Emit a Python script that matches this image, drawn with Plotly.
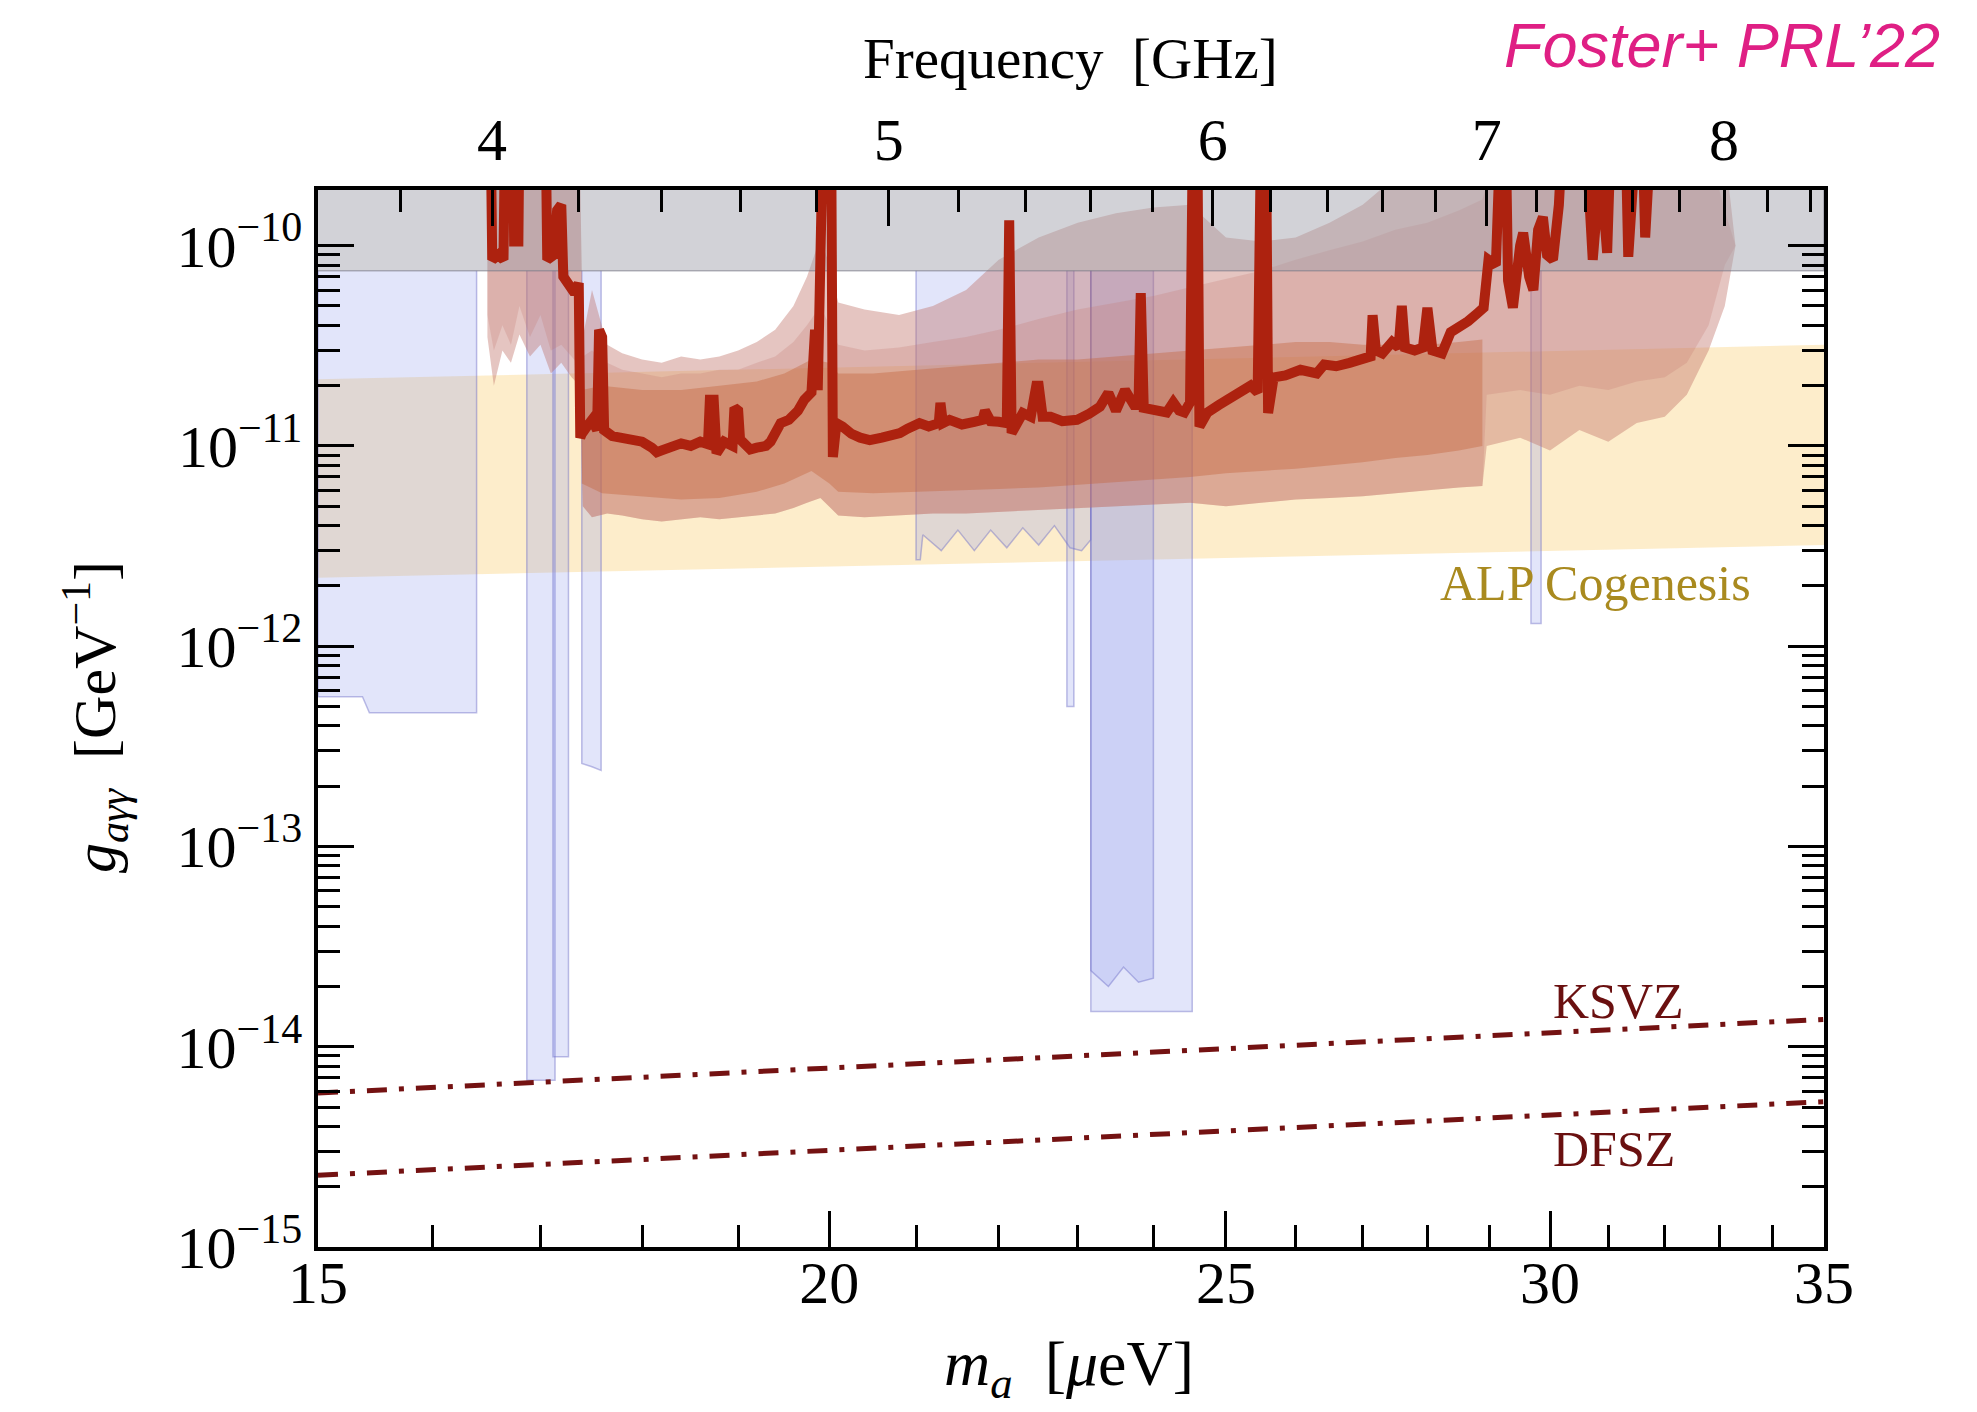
import numpy as np
import plotly.graph_objects as go

# ---------------- data ----------------
# observed limit (thick red line): axion mass [ueV] and coupling [GeV^-1]
limit_m = [16.53, 16.545, 16.60, 16.65, 16.665, 16.74, 16.75, 16.79, 16.80, 17.05,
           17.065, 17.13, 17.16, 17.20, 17.22, 17.28, 17.33, 17.37, 17.385, 17.40,
           17.45, 17.50, 17.55, 17.57, 17.60, 17.62, 17.70, 17.80, 17.90, 18.00,
           18.10, 18.15, 18.20, 18.30, 18.40, 18.50, 18.60, 18.68, 18.70, 18.74,
           18.77, 18.85, 18.94, 18.96, 19.00, 19.02, 19.13, 19.20, 19.30, 19.35,
           19.46, 19.55, 19.65, 19.72, 19.80, 19.84, 19.87, 19.93, 20.02, 20.04,
           20.08, 20.15, 20.25, 20.35, 20.46, 20.60, 20.70, 20.81, 20.90, 21.04,
           21.15, 21.27, 21.29, 21.32, 21.40, 21.55, 21.70, 21.80, 21.83, 21.90,
           22.00, 22.10, 22.13, 22.16, 22.30, 22.40, 22.47, 22.50, 22.55, 22.65,
           22.80, 22.99, 23.15, 23.29, 23.40, 23.50, 23.62, 23.74, 23.80, 23.83,
           23.87, 23.95, 24.18, 24.27, 24.35, 24.42, 24.50, 24.54, 24.60, 24.63,
           24.74, 24.90, 25.02, 25.20, 25.35, 25.45, 25.50, 25.57, 25.60, 25.68,
           25.85, 26.07, 26.20, 26.31, 26.42, 26.60, 26.80, 27.00, 27.12, 27.15,
           27.20, 27.30, 27.45, 27.55, 27.60, 27.65, 27.80, 27.93, 28.00, 28.08,
           28.23, 28.37, 28.50, 28.65, 28.80, 28.90, 28.98, 29.10, 29.18, 29.26,
           29.30, 29.38, 29.50, 29.55, 29.65, 29.72, 29.80, 29.88, 29.95, 30.05,
           30.15, 30.22, 30.60, 30.68, 30.73, 30.80, 30.85, 30.93, 30.98, 31.05,
           31.30, 31.35, 31.42, 31.50, 31.60, 31.65, 31.72, 31.86]
limit_g = [4e-10, 8.5e-11, 9.0e-11, 8.5e-11, 4e-10, 4e-10, 1.05e-10, 1.05e-10, 4e-10, 4e-10,
           8.5e-11, 9.0e-11, 1.5e-10, 1.6e-10, 7.0e-11, 6.2e-11, 5.8e-11, 6.5e-11, 1.1e-11, 1.15e-11,
           1.25e-11, 1.35e-11, 1.2e-11, 3.8e-11, 3.5e-11, 1.2e-11, 1.12e-11, 1.1e-11, 1.08e-11, 1.05e-11,
           9.8e-12, 9.3e-12, 9.5e-12, 1.0e-11, 1.03e-11, 1.0e-11, 1.05e-11, 1.02e-11, 1.7e-11, 1.7e-11,
           9.2e-12, 1.05e-11, 1.0e-11, 1.55e-11, 1.5e-11, 1.08e-11, 9.6e-12, 9.8e-12, 1.0e-11, 1.05e-11,
           1.3e-11, 1.35e-11, 1.5e-11, 1.7e-11, 1.85e-11, 3.8e-11, 1.9e-11, 4e-10, 4e-10, 8.8e-12,
           1.3e-11, 1.25e-11, 1.15e-11, 1.1e-11, 1.07e-11, 1.1e-11, 1.12e-11, 1.16e-11, 1.22e-11, 1.3e-11,
           1.25e-11, 1.3e-11, 1.64e-11, 1.3e-11, 1.35e-11, 1.28e-11, 1.32e-11, 1.35e-11, 1.5e-11, 1.33e-11,
           1.32e-11, 1.3e-11, 1.34e-10, 1.16e-11, 1.46e-11, 1.4e-11, 2.0e-11, 2.0e-11, 1.4e-11, 1.4e-11,
           1.33e-11, 1.35e-11, 1.45e-11, 1.57e-11, 1.84e-11, 1.5e-11, 1.9e-11, 1.6e-11, 1.6e-11, 5.8e-11,
           1.55e-11, 1.52e-11, 1.47e-11, 1.65e-11, 1.5e-11, 1.47e-11, 1.65e-11, 4e-10, 4e-10, 1.25e-11,
           1.47e-11, 1.6e-11, 1.7e-11, 1.85e-11, 2.0e-11, 1.85e-11, 4e-10, 4e-10, 1.46e-11, 2.2e-11,
           2.25e-11, 2.4e-11, 2.35e-11, 2.3e-11, 2.55e-11, 2.5e-11, 2.6e-11, 2.7e-11, 2.8e-11, 4.5e-11,
           3.0e-11, 2.9e-11, 3.3e-11, 3.1e-11, 5.0e-11, 3.1e-11, 3.0e-11, 3.1e-11, 4.9e-11, 3.0e-11,
           2.9e-11, 3.7e-11, 3.9e-11, 4.2e-11, 4.6e-11, 4.9e-11, 8.5e-11, 8.0e-11, 4e-10, 4e-10,
           6.7e-11, 4.9e-11, 1.0e-10, 1.16e-10, 7.0e-11, 6.0e-11, 1.2e-10, 1.39e-10, 9.0e-11, 8.5e-11,
           1.6e-10, 4e-10, 4e-10, 1.3e-10, 8.5e-11, 1.5e-10, 4e-10, 1.4e-10, 9.2e-11, 4e-10,
           4e-10, 8.8e-11, 1.5e-10, 4e-10, 4e-10, 1.1e-10, 2.5e-10, 2.5e-10]

# uncertainty bands around the limit
band_m = [16.50, 16.56, 16.64, 16.72, 16.80, 16.90, 17.00, 17.10, 17.20, 17.30,
          17.38, 17.41, 17.50, 17.65, 17.80, 18.00, 18.20, 18.40, 18.60, 18.80,
          19.00, 19.20, 19.40, 19.60, 19.75, 19.90, 20.00, 20.10, 20.40, 20.80,
          21.20, 21.60, 22.00, 22.50, 23.00, 23.50, 24.00, 24.50, 25.00, 25.50,
          26.00, 26.50, 27.00, 27.50, 28.00, 28.50, 28.88, 28.95, 29.50, 30.00,
          30.50, 31.00, 31.50, 32.00, 32.40, 32.80, 33.10, 33.30]
outer_lo = [3.5e-11, 2.0e-11, 3.0e-11, 2.6e-11, 3.6e-11, 2.8e-11, 3.2e-11, 2.3e-11, 2.6e-11, 2.2e-11,
            2.0e-11, 5.0e-12, 4.4e-12, 4.6e-12, 4.5e-12, 4.3e-12, 4.2e-12, 4.3e-12, 4.4e-12, 4.3e-12,
            4.4e-12, 4.5e-12, 4.6e-12, 4.9e-12, 5.2e-12, 5.5e-12, 5.0e-12, 4.5e-12, 4.4e-12, 4.5e-12,
            4.6e-12, 4.6e-12, 4.7e-12, 4.8e-12, 4.9e-12, 5.0e-12, 5.1e-12, 5.2e-12, 5.0e-12, 5.2e-12,
            5.4e-12, 5.5e-12, 5.6e-12, 5.8e-12, 6.0e-12, 6.2e-12, 6.3e-12, 1.0e-11, 1.1e-11, 9.5e-12,
            1.2e-11, 1.05e-11, 1.3e-11, 1.4e-11, 1.8e-11, 3.0e-11, 5.0e-11, 1.0e-10]
mid_lo = [4.5e-11, 3.0e-11, 4.0e-11, 3.2e-11, 5.0e-11, 3.5e-11, 4.5e-11, 3.0e-11, 3.2e-11, 2.8e-11,
          2.5e-11, 5.0e-12, 4.4e-12, 4.6e-12, 4.5e-12, 4.3e-12, 4.2e-12, 4.3e-12, 4.4e-12, 4.3e-12,
          4.4e-12, 4.5e-12, 4.6e-12, 4.9e-12, 5.2e-12, 5.5e-12, 5.0e-12, 4.5e-12, 4.4e-12, 4.5e-12,
          4.6e-12, 4.6e-12, 4.7e-12, 4.8e-12, 4.9e-12, 5.0e-12, 5.1e-12, 5.2e-12, 5.0e-12, 5.2e-12,
          5.4e-12, 5.5e-12, 5.6e-12, 5.8e-12, 6.0e-12, 6.2e-12, 6.3e-12, 1.8e-11, 1.9e-11, 1.8e-11,
          2.0e-11, 1.9e-11, 2.1e-11, 2.2e-11, 2.6e-11, 4.0e-11, 8.0e-11, 1.0e-10]
mid_hi = [3e-10, 3e-10, 3e-10, 3e-10, 3e-10, 3e-10, 3e-10, 3e-10, 3e-10, 3e-10,
          3e-10, 2.8e-11, 3.0e-11, 2.6e-11, 2.4e-11, 2.3e-11, 2.2e-11, 2.3e-11, 2.3e-11, 2.4e-11,
          2.4e-11, 2.6e-11, 2.8e-11, 3.3e-11, 4.0e-11, 5.0e-11, 4.0e-11, 3.2e-11, 3.0e-11, 3.1e-11,
          3.3e-11, 3.5e-11, 3.8e-11, 4.3e-11, 4.8e-11, 5.2e-11, 5.6e-11, 6.2e-11, 6.8e-11, 7.5e-11,
          8.5e-11, 9.5e-11, 1.05e-10, 1.2e-10, 1.3e-10, 1.5e-10, 1.7e-10, 2.0e-10, 3e-10, 3e-10,
          3e-10, 3e-10, 3e-10, 3e-10, 3e-10, 3e-10, 1.5e-10, 1.0e-10]
outer_hi = [3e-10, 3e-10, 3e-10, 3e-10, 3e-10, 3e-10, 3e-10, 3e-10, 3e-10, 3e-10,
            3e-10, 3.5e-11, 6.0e-11, 3.2e-11, 2.9e-11, 2.7e-11, 2.6e-11, 2.8e-11, 2.7e-11, 2.8e-11,
            3.0e-11, 3.3e-11, 3.8e-11, 5.0e-11, 7.0e-11, 1.1e-10, 8.0e-11, 5.2e-11, 4.8e-11, 4.5e-11,
            5.0e-11, 6.0e-11, 8.5e-11, 1.1e-10, 1.3e-10, 1.45e-10, 1.55e-10, 1.6e-10, 1.1e-10, 1.05e-10,
            1.1e-10, 1.3e-10, 1.6e-10, 2.2e-10, 3e-10, 3e-10, 3e-10, 3e-10, 3e-10, 3e-10,
            3e-10, 3e-10, 3e-10, 3e-10, 3e-10, 3e-10, 3e-10, 1.0e-10]

inner_m = [17.40, 17.60, 18.00, 18.40, 18.80, 19.20, 19.50, 19.80, 20.00, 20.10,
           20.50, 21.00, 21.50, 22.00, 22.50, 23.00, 23.50, 24.00, 24.50, 25.00,
           25.50, 26.00, 26.50, 27.00, 27.50, 28.00, 28.50, 28.88]
inner_lo = [6.5e-12, 5.8e-12, 5.6e-12, 5.4e-12, 5.5e-12, 5.9e-12, 6.5e-12, 7.5e-12, 6.5e-12, 5.9e-12,
            5.8e-12, 5.9e-12, 6.0e-12, 6.1e-12, 6.2e-12, 6.4e-12, 6.6e-12, 6.8e-12, 7.0e-12, 7.3e-12,
            7.5e-12, 7.7e-12, 8.0e-12, 8.3e-12, 8.7e-12, 9.0e-12, 9.5e-12, 1.0e-11]
inner_hi = [1.9e-11, 2.0e-11, 1.9e-11, 1.9e-11, 2.0e-11, 2.1e-11, 2.3e-11, 2.7e-11, 2.6e-11, 2.3e-11,
            2.3e-11, 2.4e-11, 2.5e-11, 2.6e-11, 2.7e-11, 2.7e-11, 2.8e-11, 2.9e-11, 3.0e-11, 3.1e-11,
            3.2e-11, 3.3e-11, 3.3e-11, 3.2e-11, 3.2e-11, 3.2e-11, 3.3e-11, 3.4e-11]

# other experiments (lavender), lower edges of excluded regions
blue_left_m = [15.0, 15.38, 15.44, 16.40]
blue_left_lo = [5.6e-13, 5.6e-13, 4.65e-13, 4.65e-13]
blue_a_m = [16.87, 17.14]
blue_a_lo = [6.8e-15, 6.8e-15]
blue_b_m = [17.12, 17.27]
blue_b_lo = [8.9e-15, 8.9e-15]
blue_c_m = [17.40, 17.50, 17.59]
blue_c_lo = [2.6e-13, 2.5e-13, 2.4e-13]
blue_d_m = [21.00, 21.05, 21.08, 21.30, 21.50, 21.70, 21.90, 22.10, 22.30, 22.50, 22.70, 22.90, 23.05, 23.17]
blue_d_lo = [2.7e-12, 2.7e-12, 3.6e-12, 3.0e-12, 3.8e-12, 3.0e-12, 3.8e-12, 3.1e-12, 3.9e-12, 3.2e-12,
             4.0e-12, 3.1e-12, 3.0e-12, 3.4e-12]
blue_e_m = [22.86, 22.95]
blue_e_lo = [5.0e-13, 5.0e-13]
blue_f_m = [23.17, 24.53]
blue_f_lo = [1.5e-14, 1.5e-14]
blue_g_m = [23.17, 23.40, 23.60, 23.80, 24.00]
blue_g_lo = [2.4e-14, 2.0e-14, 2.5e-14, 2.1e-14, 2.2e-14]
blue_h_m = [29.68, 29.85]
blue_h_lo = [1.3e-12, 1.3e-12]

# CAST (gray) and ALP cogenesis (yellow)
cast_m = [15.0, 35.0]
cast_lo = [7.5e-11, 7.5e-11]
alp_m = [15.0, 35.0]
alp_lo = [2.2e-12, 3.2e-12]
alp_hi = [2.15e-11, 3.2e-11]

# QCD axion benchmark lines
ksvz_m = [15.0, 35.0]
ksvz_g = [5.87e-15, 1.37e-14]
dfsz_m = [15.0, 35.0]
dfsz_g = [2.28e-15, 5.32e-15]

# axes
x_ticks = [15, 20, 25, 30, 35]
x_minor = [16, 17, 18, 19, 21, 22, 23, 24, 26, 27, 28, 29, 31, 32, 33, 34]
f_ticks = [4, 5, 6, 7, 8]
f_minor = [3.8, 4.2, 4.4, 4.6, 4.8, 5.2, 5.4, 5.6, 5.8, 6.2, 6.4, 6.6, 6.8,
           7.2, 7.4, 7.6, 7.8, 8.2, 8.4]
y_exps = [-15, -14, -13, -12, -11, -10]
UEV_PER_GHZ = 4.1357

# ---------------- figure ----------------
W, H = 1977, 1412
L, R, T, B = 318, 153, 190, 165
TOP = 3e-10
SERIF = "Liberation Serif"

fig = go.Figure()


def poly(xs, ys, fillcolor, linecolor="rgba(0,0,0,0)", lw=0):
    fig.add_trace(go.Scatter(x=xs, y=ys, mode="lines", fill="toself",
                             fillcolor=fillcolor,
                             line=dict(color=linecolor, width=lw),
                             hoverinfo="skip", showlegend=False))


def band(m, lo, hi, color):
    poly(list(m) + list(m)[::-1], list(hi) + list(lo)[::-1], color)


def region(m, lo, color, edge):
    xs = [m[0]] + list(m) + [m[-1]]
    ys = [cast_lo[0]] + list(lo) + [cast_lo[0]]
    poly(xs, ys, color, edge, 1.5)


# ALP cogenesis
band(alp_m, alp_lo, alp_hi, "rgba(250,215,140,0.45)")

# other haloscopes
blue_fill = "rgba(140,150,235,0.25)"
blue_edge = "rgba(110,110,200,0.45)"
for bm, bl in [(blue_left_m, blue_left_lo), (blue_a_m, blue_a_lo), (blue_b_m, blue_b_lo),
               (blue_c_m, blue_c_lo), (blue_d_m, blue_d_lo), (blue_e_m, blue_e_lo),
               (blue_f_m, blue_f_lo), (blue_g_m, blue_g_lo), (blue_h_m, blue_h_lo)]:
    region(bm, bl, blue_fill, blue_edge)

# uncertainty bands
band(band_m, outer_lo, outer_hi, "rgba(190,110,100,0.40)")
band(band_m, mid_lo, mid_hi, "rgba(195,120,110,0.25)")
band(inner_m, inner_lo, inner_hi, "rgba(195,100,60,0.40)")

# CAST
poly(cast_m + cast_m[::-1], [TOP, TOP, cast_lo[1], cast_lo[0]],
     "rgba(160,160,172,0.48)", "rgba(120,120,135,0.55)", 1.5)

# limit line
fig.add_trace(go.Scatter(x=limit_m, y=limit_g, mode="lines",
                         line=dict(color="#ad220f", width=10),
                         hoverinfo="skip", showlegend=False))

# KSVZ / DFSZ
for mm, gg in [(ksvz_m, ksvz_g), (dfsz_m, dfsz_g)]:
    fig.add_trace(go.Scatter(x=mm, y=gg, mode="lines",
                             line=dict(color="#741212", width=5, dash="20px,12px,5px,12px"),
                             hoverinfo="skip", showlegend=False))

# dummy trace for the frequency axis
fig.add_trace(go.Scatter(x=[f_ticks[0], f_ticks[-1]], y=[1e-15, 1e-15], xaxis="x2", yaxis="y",
                         mode="markers", marker=dict(opacity=0), hoverinfo="skip",
                         showlegend=False))

tickfont = dict(family=SERIF, size=60, color="black")
common = dict(showgrid=False, zeroline=False, showline=True, linecolor="black", linewidth=3.5,
              ticks="inside", ticklen=36, tickwidth=3, tickcolor="black", tickfont=tickfont)

fig.update_layout(
    width=W, height=H, margin=dict(l=L, r=R, t=T, b=B),
    paper_bgcolor="white", plot_bgcolor="white", showlegend=False,
    xaxis=dict(type="log", range=[np.log10(15), np.log10(35)], tickmode="array",
               tickvals=x_ticks, ticktext=[str(v) for v in x_ticks], mirror=False,
               ticklabelstandoff=-20,
               minor=dict(tickmode="array", tickvals=x_minor, ticks="inside", ticklen=22,
                          tickwidth=3, tickcolor="black", showgrid=False),
               **common),
    xaxis2=dict(type="log", overlaying="x", side="top", anchor="y",
                range=[np.log10(15 / UEV_PER_GHZ), np.log10(35 / UEV_PER_GHZ)],
                tickmode="array", tickvals=f_ticks, ticktext=[str(v) for v in f_ticks],
                ticklabelstandoff=2,
                minor=dict(tickmode="array", tickvals=f_minor, ticks="inside", ticklen=22,
                           tickwidth=3, tickcolor="black", showgrid=False),
                **common),
    yaxis=dict(type="log", range=[-15, -9.722], tickmode="array",
               tickvals=[10.0 ** e for e in y_exps],
               ticktext=["10<sup>\u2212%d</sup>" % (-e) for e in y_exps],
               mirror="ticks", ticklabelstandoff=0,
               minor=dict(tickmode="array",
                          tickvals=[k * 10.0 ** e for e in y_exps for k in range(2, 10)],
                          ticks="inside", ticklen=22, tickwidth=3, tickcolor="black",
                          showgrid=False),
               **common),
)


def paper(X, Y):
    return (X - L) / (W - L - R), (H - B - Y) / (H - T - B)


ann = []
px, py = paper(1070, 59)
ann.append(dict(x=px, y=py, text="Frequency\u2002[GHz]", font=dict(family=SERIF, size=57, color="black")))
px, py = paper(1942, 45)
ann.append(dict(x=px, y=py, xanchor="right", text="<i>Foster+ PRL\u201922</i>",
                font=dict(family="Liberation Sans", size=63, color="#df1f84")))
px, py = paper(1069, 1368)
ann.append(dict(x=px, y=py, text="<i>m<sub>a</sub></i>\u2002[<i>\u03bc</i>eV]",
                font=dict(family=SERIF, size=64, color="black")))
px, py = paper(95, 717)
ann.append(dict(x=px, y=py, textangle=-90, text="<i>g<sub>a\u03b3\u03b3</sub></i>\u2002[GeV<sup>\u22121</sup>]",
                font=dict(family=SERIF, size=60, color="black")))
for a in ann:
    a.update(xref="paper", yref="paper", showarrow=False)
    a.setdefault("xanchor", "center")
    a.setdefault("yanchor", "middle")

ann.append(dict(x=np.log10(30.77), y=np.log10(2.06e-12), xref="x", yref="y", showarrow=False,
                text="ALP Cogenesis", font=dict(family=SERIF, size=50, color="#a98a1f")))
ann.append(dict(x=np.log10(31.17), y=np.log10(1.69e-14), xref="x", yref="y", showarrow=False,
                text="KSVZ", font=dict(family=SERIF, size=50, color="#6a1010")))
ann.append(dict(x=np.log10(31.1), y=np.log10(3.09e-15), xref="x", yref="y", showarrow=False,
                text="DFSZ", font=dict(family=SERIF, size=50, color="#6a1010")))
fig.update_layout(annotations=ann)

fig.write_html("out.html")
